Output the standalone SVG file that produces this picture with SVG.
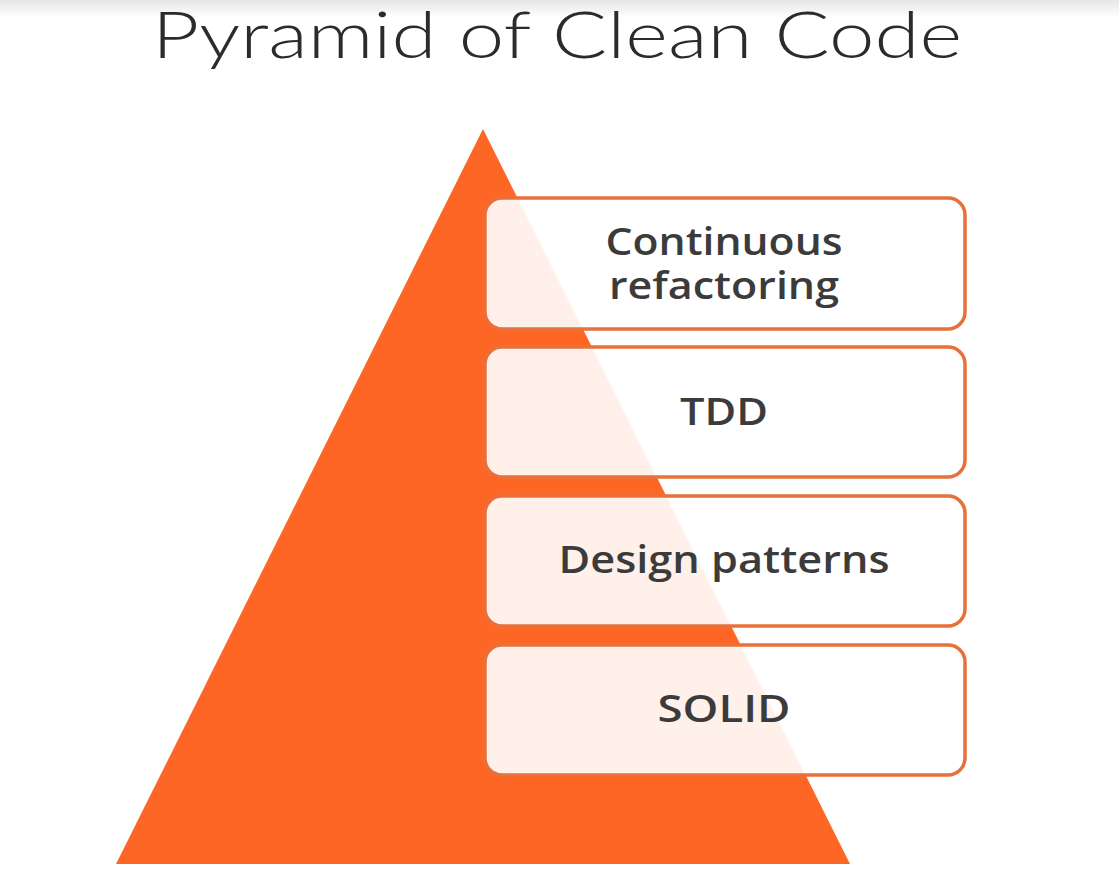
<svg xmlns="http://www.w3.org/2000/svg" width="1119" height="885" viewBox="0 0 1119 885">
<defs>
<linearGradient id="topg" x1="0" y1="0" x2="0" y2="1">
<stop offset="0" stop-color="#e6e6e6"/>
<stop offset="1" stop-color="#ffffff"/>
</linearGradient>
</defs>
<style>
.box{fill:#ffffff;fill-opacity:0.9;stroke:#e8703a;stroke-width:3.5}
.lbl{font-family:"Open Sans","Lato","Liberation Sans",sans-serif;font-weight:600;font-size:38px;fill:#3c3b3b;text-anchor:middle}
.title{font-family:"Lato","Open Sans","Liberation Sans",sans-serif;font-weight:300;font-size:65px;fill:#2b2b2b;text-anchor:middle}
</style>
<rect x="0" y="0" width="1119" height="885" fill="#ffffff"/>
<rect x="0" y="0" width="1119" height="18" fill="url(#topg)"/>
<text class="title" x="557" y="58" textLength="810" lengthAdjust="spacingAndGlyphs">Pyramid of Clean Code</text>
<g id="pyramid">
<polygon points="483,129 850,864 116,864" fill="#fe6625"/>
</g>
<g id="connectors"></g>
<g id="node-refactoring">
<rect class="box" x="485" y="198" width="480" height="131" rx="17"/>
<text class="lbl" x="724" y="255" textLength="237" lengthAdjust="spacingAndGlyphs">Continuous</text>
<text class="lbl" x="724" y="299" textLength="230" lengthAdjust="spacingAndGlyphs">refactoring</text>
</g>
<g id="node-tdd">
<rect class="box" x="485" y="347" width="480" height="130" rx="17"/>
<text class="lbl" x="724" y="425" textLength="88" lengthAdjust="spacingAndGlyphs">TDD</text>
</g>
<g id="node-patterns">
<rect class="box" x="485" y="496" width="480" height="130" rx="17"/>
<text class="lbl" x="724" y="573" textLength="331" lengthAdjust="spacingAndGlyphs">Design patterns</text>
</g>
<g id="node-solid">
<rect class="box" x="485" y="645" width="480" height="130" rx="17"/>
<text class="lbl" x="724" y="722" textLength="133" lengthAdjust="spacingAndGlyphs">SOLID</text>
</g>
</svg>
